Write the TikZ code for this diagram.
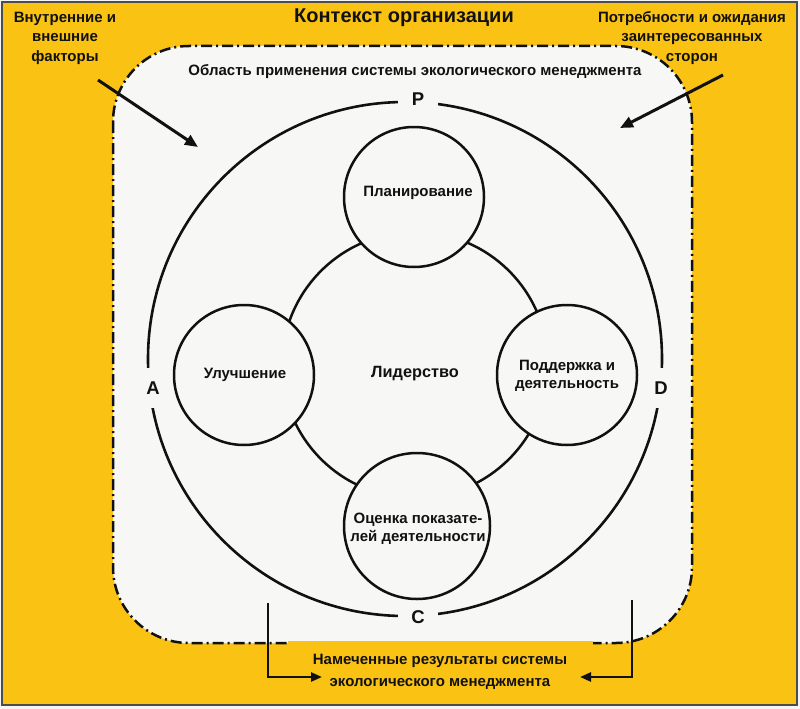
\documentclass[tikz,border=0pt]{standalone}
\usepackage{fontspec}
\setmainfont{Liberation Sans}
\usetikzlibrary{arrows.meta}
\definecolor{bgyel}{HTML}{FAC314}
\definecolor{inwhite}{HTML}{F7F7F5}
\definecolor{ink}{HTML}{111111}
\begin{document}
\begin{tikzpicture}[x=1pt,y=-1pt,
  txt/.style={font=\bfseries\fontsize{15}{19.5}\selectfont, align=center, text=ink, inner sep=0pt},
  ctxt/.style={font=\bfseries\fontsize{15}{18}\selectfont, align=center, text=ink, inner sep=0pt},
  phase/.style={font=\bfseries\fontsize{18.5}{20}\selectfont, text=ink, fill=inwhite, inner sep=0pt},
  hgap/.style={phase, minimum width=40pt, minimum height=18pt},
  vgap/.style={phase, minimum width=18pt, minimum height=40pt},
  bubble/.style={circle, draw=ink, line width=2.5pt, fill=inwhite, minimum size=140pt, inner sep=0pt},
  dashdot/.style={draw=ink, line width=2.5pt, dash pattern=on 11pt off 4pt on 2pt off 4pt},
  bigarrow/.style={draw=ink, line width=3pt, -{Triangle[length=13pt,width=11pt]}},
  smallarrow/.style={draw=ink, line width=2.4pt, -{Triangle[length=11pt,width=9pt]}}
]
\useasboundingbox (0,0) rectangle (800,709);
\fill[gray!8] (0,0) rectangle (800,709);
\draw[fill=bgyel, draw=black!70, line width=1.5pt] (2,2) rectangle (797,705);
% scope area
\path[fill=inwhite, dashdot, rounded corners=76pt] (113,46) rectangle (692,643);
% leadership ring
\draw[ink, line width=2.5pt] (415,365) circle[radius=133pt];
% PDCA circle
\draw[ink, line width=2.6pt] (405,359) circle[radius=257pt];
% phase labels (gaps in the circle)
\node[hgap] (P) at (418,99) {P};
\node[hgap] (C) at (418,617) {C};
\node[vgap] (A) at (153,388) {A};
\node[vgap] (D) at (661,388) {D};
% bubbles
\node[bubble] (plan) at (414,197) {};
\node[bubble] (impr) at (244,375) {};
\node[bubble] (supp) at (567,375) {};
\node[bubble, minimum size=146pt] (eval) at (417,526) {};
\node[ctxt] (plant) at (418,193) {Планирование};
\node[ctxt] (imprt) at (245,375) {Улучшение};
\node[ctxt] (suppt) at (567,376) {Поддержка и\\деятельность};
\node[ctxt] (evalt) at (418,529) {Оценка показате-\\лей деятельности};
\node[font=\bfseries\fontsize{16.3}{19}\selectfont, text=ink, inner sep=0pt] (lead) at (415,374) {Лидерство};
% texts
\node[font=\bfseries\fontsize{20}{24}\selectfont, text=ink, inner sep=0pt] (title) at (404,18) {Контекст организации};
\node[txt] (scope) at (415,72) {Область применения системы экологического менеджмента};
\node[txt] (inext) at (65,38) {Внутренние и\\внешние\\факторы};
\node[txt] (needs) at (692,38) {Потребности и ожидания\\заинтересованных\\сторон};
\node[txt, font=\bfseries\fontsize{15}{21.5}\selectfont, fill=bgyel, minimum width=305pt, minimum height=62pt] (result) at (440,672) {Намеченные результаты системы\\экологического менеджмента};
% arrows
\coordinate (a1s) at (98,80);
\coordinate (a1e) at (198,147);
\coordinate (a2s) at (723,75);
\coordinate (a2e) at (620,128);
\draw[bigarrow] (a1s) -- (a1e);
\draw[bigarrow] (a2s) -- (a2e);
\coordinate (b1s) at (268,603);
\coordinate (b1c) at (268,677);
\coordinate (b1e) at (322,677);
\coordinate (b2s) at (632,600);
\coordinate (b2c) at (632,677);
\coordinate (b2e) at (580,677);
\draw[smallarrow] (b1s) -- (b1c) -- (b1e);
\draw[smallarrow] (b2s) -- (b2c) -- (b2e);
\end{tikzpicture}
\end{document}
